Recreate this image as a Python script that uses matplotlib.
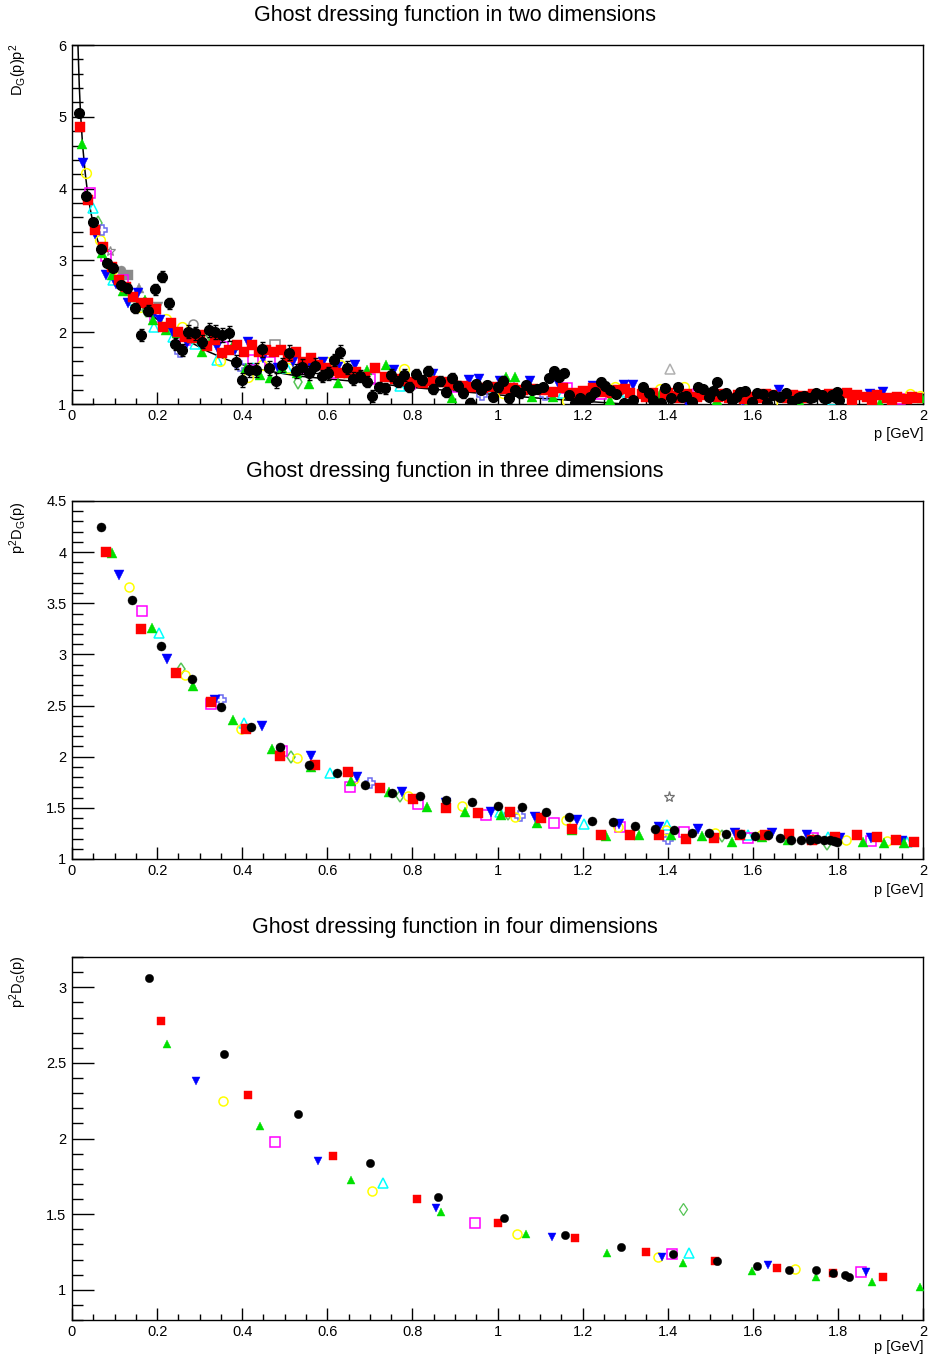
import matplotlib
matplotlib.use("Agg")
import matplotlib.pyplot as plt
from matplotlib.ticker import MultipleLocator, FuncFormatter

plt.rcParams.update({
    "font.family": ["Liberation Sans", "DejaVu Sans"],
    "mathtext.default": "regular",
    "axes.linewidth": 1.0,
})

# ---------------- two dimensions ----------------
d2_black_p = [0.017, 0.034, 0.049, 0.067, 0.083, 0.097, 0.114, 0.130, 0.148, 0.162,
              0.179, 0.195, 0.211, 0.227, 0.242, 0.258, 0.273, 0.289, 0.306, 0.322,
              0.337, 0.353, 0.369, 0.385, 0.400, 0.416, 0.432, 0.447, 0.463, 0.479,
              0.494, 0.510, 0.526, 0.541, 0.556, 0.572, 0.587, 0.602, 0.615, 0.631,
              0.646, 0.661, 0.677, 0.693, 0.705, 0.721, 0.736, 0.749, 0.765, 0.780,
              0.793, 0.808, 0.823, 0.836, 0.849, 0.865, 0.878, 0.892, 0.907, 0.920,
              0.935, 0.949, 0.962, 0.975, 0.989, 1.001, 1.014, 1.028, 1.040, 1.054,
              1.068, 1.080, 1.093, 1.106, 1.120, 1.132, 1.145, 1.157, 1.169, 1.182,
              1.193, 1.206, 1.218, 1.229, 1.243, 1.253, 1.265, 1.279, 1.298, 1.319,
              1.341, 1.357, 1.366, 1.384, 1.394, 1.407, 1.424, 1.433, 1.443, 1.456,
              1.472, 1.483, 1.496, 1.507, 1.515, 1.527, 1.537, 1.550, 1.560, 1.570,
              1.582, 1.597, 1.609, 1.623, 1.634, 1.648, 1.664, 1.677, 1.691, 1.707,
              1.712, 1.720, 1.734, 1.741, 1.748, 1.762, 1.768, 1.774, 1.787, 1.793,
              1.799, 1.803]
d2_black_v = [5.048, 3.901, 3.539, 3.154, 2.959, 2.899, 2.657, 2.611, 2.332, 1.961,
              2.300, 2.597, 2.773, 2.402, 1.836, 1.752, 2.007, 1.984, 1.868, 2.031,
              2.007, 1.961, 1.984, 1.589, 1.334, 1.473, 1.473, 1.761, 1.497, 1.325,
              1.543, 1.715, 1.460, 1.520, 1.436, 1.536, 1.390, 1.427, 1.613, 1.729,
              1.504, 1.355, 1.390, 1.311, 1.111, 1.232, 1.218, 1.404, 1.311, 1.404,
              1.241, 1.413, 1.334, 1.464, 1.209, 1.325, 1.162, 1.357, 1.251, 1.148,
              1.019, 1.278, 1.195, 1.264, 1.102, 1.232, 1.325, 1.079, 1.195, 1.148,
              1.264, 1.195, 1.204, 1.232, 1.357, 1.464, 1.371, 1.436, 1.125, 1.019,
              1.079, 1.019, 1.093, 1.172, 1.311, 1.251, 1.195, 1.137, 1.010, 1.056,
              1.232, 1.149, 1.056, 1.019, 1.219, 1.079, 1.232, 1.093, 1.112, 1.033,
              1.242, 1.205, 1.102, 1.186, 1.311, 1.126, 1.158, 1.056, 1.102, 1.172,
              1.181, 1.033, 1.158, 1.140, 1.019, 1.126, 1.102, 1.149, 1.047, 1.079,
              1.095, 1.112, 1.079, 1.100, 1.149, 1.126, 1.090, 1.079, 1.126, 1.100,
              1.172, 1.056]
d2_black_err = [0.03, 0.03, 0.03, 0.04, 0.04, 0.05, 0.05, 0.06, 0.07, 0.08,
                0.08, 0.08, 0.08, 0.08, 0.08, 0.09, 0.09, 0.09, 0.09, 0.10,
                0.10, 0.10, 0.10, 0.10, 0.10, 0.10, 0.10, 0.10, 0.10, 0.10,
                0.10, 0.10, 0.10, 0.10, 0.10, 0.10, 0.09, 0.09, 0.09, 0.09,
                0.09, 0.09, 0.08, 0.08, 0.08, 0.08, 0.08, 0.08, 0.08, 0.08,
                0.07, 0.07, 0.07, 0.07, 0.07, 0.07, 0.07, 0.07, 0.07, 0.07,
                0.06, 0.06, 0.06, 0.06, 0.06, 0.06, 0.06, 0.06, 0.06, 0.06,
                0.05, 0.05, 0.05, 0.05, 0.05, 0.05, 0.05, 0.05, 0.05, 0.05,
                0.05, 0.05, 0.05, 0.05, 0.05, 0.05, 0.04, 0.04, 0.04, 0.04,
                0.04, 0.04, 0.04, 0.04, 0.04, 0.04, 0.04, 0.04, 0.04, 0.04,
                0.04, 0.04, 0.04, 0.04, 0.04, 0.04, 0.04, 0.04, 0.04, 0.04,
                0.04, 0.04, 0.04, 0.04, 0.04, 0.04, 0.04, 0.04, 0.04, 0.04,
                0.03, 0.03, 0.03, 0.03, 0.03, 0.03, 0.03, 0.03, 0.03, 0.03,
                0.03, 0.03]

d2_red_p = [0.019, 0.037, 0.054, 0.074, 0.093, 0.111, 0.128, 0.144, 0.162, 0.179,
            0.197, 0.215, 0.232, 0.248, 0.266, 0.283, 0.301, 0.317, 0.335, 0.352,
            0.369, 0.387, 0.404, 0.422, 0.439, 0.457, 0.475, 0.491, 0.508, 0.526,
            0.544, 0.561, 0.579, 0.596, 0.614, 0.631, 0.649, 0.667, 0.689, 0.712,
            0.736, 0.759, 0.779, 0.802, 0.826, 0.849, 0.873, 0.896, 0.920, 0.943,
            0.967, 0.990, 1.015, 1.037, 1.061, 1.084, 1.108, 1.131, 1.155, 1.178,
            1.202, 1.225, 1.249, 1.270, 1.284, 1.300, 1.312, 1.339, 1.350, 1.366,
            1.393, 1.400, 1.417, 1.430, 1.445, 1.468, 1.480, 1.493, 1.519, 1.530,
            1.543, 1.566, 1.580, 1.594, 1.617, 1.630, 1.644, 1.668, 1.680, 1.695,
            1.719, 1.730, 1.742, 1.769, 1.780, 1.800, 1.821, 1.833, 1.844, 1.868,
            1.880, 1.891, 1.915, 1.926, 1.938, 1.962, 1.973, 1.985]
d2_red_v = [4.853, 3.841, 3.423, 3.191, 2.913, 2.727, 2.634, 2.495, 2.402, 2.402,
            2.318, 2.077, 2.124, 2.007, 1.938, 1.915, 1.961, 1.808, 1.891, 1.715,
            1.752, 1.822, 1.729, 1.822, 1.729, 1.752, 1.729, 1.752, 1.659, 1.729,
            1.589, 1.636, 1.543, 1.497, 1.464, 1.436, 1.427, 1.450, 1.380, 1.497,
            1.380, 1.343, 1.325, 1.311, 1.288, 1.325, 1.311, 1.264, 1.251, 1.241,
            1.218, 1.241, 1.204, 1.218, 1.195, 1.204, 1.195, 1.172, 1.218, 1.158,
            1.186, 1.218, 1.172, 1.160, 1.195, 1.210, 1.158, 1.140, 1.100, 1.149,
            1.126, 1.160, 1.112, 1.080, 1.140, 1.102, 1.150, 1.126, 1.102, 1.140,
            1.079, 1.126, 1.070, 1.102, 1.079, 1.140, 1.126, 1.102, 1.080, 1.126,
            1.112, 1.090, 1.140, 1.102, 1.140, 1.100, 1.149, 1.056, 1.126, 1.102,
            1.047, 1.126, 1.079, 1.056, 1.102, 1.065, 1.102, 1.079]

d2_green_p = [0.024, 0.070, 0.093, 0.119, 0.143, 0.172, 0.191, 0.222, 0.246, 0.285,
              0.305, 0.332, 0.379, 0.410, 0.442, 0.465, 0.493, 0.528, 0.557, 0.599,
              0.624, 0.652, 0.693, 0.739, 0.848, 0.893, 1.021, 1.041, 1.080, 1.131,
              1.265, 1.382, 1.515, 1.590, 1.711, 1.829, 1.899, 1.925, 1.997]
d2_green_v = [4.621, 3.098, 2.797, 2.578, 2.495, 2.448, 2.170, 2.031, 1.984, 1.915,
              1.729, 1.938, 1.822, 1.497, 1.404, 1.358, 1.497, 1.427, 1.279, 1.427,
              1.297, 1.427, 1.473, 1.543, 1.334, 1.079, 1.380, 1.371, 1.102, 1.102,
              1.056, 1.140, 1.056, 1.047, 1.033, 1.149, 1.010, 1.010, 1.079]

d2_blue_p = [0.027, 0.054, 0.081, 0.103, 0.132, 0.156, 0.191, 0.207, 0.238, 0.270,
             0.309, 0.340, 0.382, 0.414, 0.450, 0.485, 0.520, 0.559, 0.591, 0.626,
             0.664, 0.757, 0.849, 0.932, 0.956, 1.005, 1.077, 1.143, 1.225, 1.298,
             1.319, 1.394, 1.446, 1.578, 1.662, 1.875, 1.905]
d2_blue_v = [4.352, 3.368, 2.797, 2.671, 2.402, 2.541, 2.226, 2.170, 1.984, 1.845,
             1.799, 1.799, 1.752, 1.868, 1.636, 1.497, 1.589, 1.543, 1.589, 1.520,
             1.543, 1.473, 1.418, 1.334, 1.353, 1.325, 1.325, 1.288, 1.251, 1.265,
             1.265, 1.112, 1.010, 1.033, 1.195, 1.140, 1.172]

d2_yellow_p = [0.034, 0.066, 0.093, 0.125, 0.160, 0.222, 0.258, 0.349, 0.414, 0.446,
               0.508, 0.599, 0.630, 0.780, 1.014, 1.163, 1.276, 1.383, 1.438, 1.644,
               1.970, 1.993]
d2_yellow_v = [4.222, 3.284, 2.866, 2.588, 2.355, 2.179, 2.068, 1.603, 1.381, 1.543,
               1.497, 1.589, 1.543, 1.483, 1.158, 1.046, 1.241, 1.205, 1.242, 1.010,
               1.140, 1.112]

d2_magenta_p = [0.042, 0.081, 0.121, 0.195, 0.266, 0.356, 0.426, 0.465, 0.544, 0.614,
                0.701, 0.794, 0.904, 1.026, 1.163, 1.243, 1.472, 1.719, 1.946]
d2_magenta_v = [3.943, 3.061, 2.727, 2.216, 1.891, 1.799, 1.613, 1.589, 1.497, 1.427,
                1.343, 1.278, 1.232, 1.251, 1.218, 1.137, 1.140, 1.102, 1.065]

d2_cyan_p = [0.050, 0.097, 0.144, 0.193, 0.237, 0.289, 0.340, 0.426, 0.505, 0.771,
             0.990, 1.155, 1.304, 1.566, 1.789]
d2_cyan_v = [3.725, 2.727, 2.448, 2.077, 1.938, 1.836, 1.613, 1.497, 1.497, 1.251,
             1.241, 1.148, 1.172, 1.033, 1.056]

d2_diamond_p = [0.060, 0.175, 0.324, 0.530]
d2_diamond_v = [3.516, 2.309, 1.961, 1.311]

d2_cross_p = [0.070, 0.254, 0.395, 0.963, 1.112]
d2_cross_v = [3.423, 1.729, 1.529, 1.125, 1.125]

d2_gray_p = [0.089, 0.115, 0.132, 0.158, 0.203, 0.285, 0.477, 1.406]
d2_gray_v = [3.136, 2.866, 2.797, 2.611, 2.355, 2.115, 1.822, 1.490]

d2_fit_p = [0.014, 0.017, 0.020, 0.025, 0.031, 0.037, 0.044, 0.050, 0.060, 0.070,
            0.080, 0.095, 0.110, 0.125, 0.150, 0.175, 0.200, 0.222, 0.250, 0.285,
            0.320, 0.363, 0.400, 0.442, 0.490, 0.530, 0.600, 0.693, 0.800, 0.900,
            1.006, 1.100, 1.200, 1.300]
d2_fit_v = [6.00, 5.45, 5.05, 4.60, 4.22, 3.92, 3.68, 3.50, 3.28, 3.12,
            2.99, 2.84, 2.71, 2.60, 2.44, 2.30, 2.18, 2.08, 1.97, 1.84,
            1.73, 1.62, 1.55, 1.48, 1.43, 1.39, 1.35, 1.30, 1.23, 1.18,
            1.125, 1.08, 1.04, 1.00]

# ---------------- three dimensions ----------------
d3_black_p = [0.069, 0.140, 0.210, 0.281, 0.351, 0.420, 0.489, 0.557, 0.622, 0.689,
              0.753, 0.817, 0.878, 0.940, 1.000, 1.058, 1.114, 1.169, 1.222, 1.272,
              1.323, 1.369, 1.414, 1.457, 1.497, 1.536, 1.572, 1.605, 1.636, 1.664,
              1.689, 1.713, 1.734, 1.752, 1.768, 1.781, 1.791, 1.799]
d3_black_v = [4.242, 3.537, 3.086, 2.763, 2.486, 2.287, 2.094, 1.921, 1.839, 1.728,
              1.643, 1.620, 1.581, 1.561, 1.522, 1.512, 1.463, 1.414, 1.375, 1.358,
              1.326, 1.290, 1.283, 1.254, 1.251, 1.241, 1.244, 1.228, 1.234, 1.202,
              1.182, 1.185, 1.185, 1.192, 1.189, 1.182, 1.172, 1.162]

d3_red_p = [0.081, 0.163, 0.245, 0.326, 0.408, 0.489, 0.570, 0.648, 0.725, 0.802,
            0.879, 0.955, 1.030, 1.103, 1.174, 1.243, 1.311, 1.379, 1.444, 1.508,
            1.569, 1.628, 1.685, 1.739, 1.793, 1.844, 1.891, 1.936, 1.980]
d3_red_v = [4.004, 3.250, 2.819, 2.535, 2.267, 2.006, 1.921, 1.849, 1.695, 1.587,
            1.499, 1.450, 1.460, 1.404, 1.296, 1.238, 1.231, 1.231, 1.198, 1.205,
            1.231, 1.231, 1.241, 1.189, 1.218, 1.231, 1.211, 1.182, 1.166]

d3_green_p = [0.094, 0.188, 0.284, 0.379, 0.471, 0.562, 0.656, 0.745, 0.835, 0.923,
              1.009, 1.092, 1.176, 1.255, 1.333, 1.408, 1.480, 1.551, 1.622, 1.682,
              1.742, 1.798, 1.858, 1.909, 1.956]
d3_green_v = [3.987, 3.263, 2.691, 2.362, 2.078, 1.898, 1.767, 1.659, 1.512, 1.460,
              1.430, 1.352, 1.283, 1.221, 1.231, 1.238, 1.221, 1.169, 1.218, 1.189,
              1.198, 1.198, 1.162, 1.159, 1.153]

d3_blue_p = [0.111, 0.224, 0.337, 0.447, 0.561, 0.669, 0.775, 0.878, 0.985, 1.088,
             1.187, 1.286, 1.379, 1.471, 1.559, 1.646, 1.728, 1.805, 1.878, 1.951]
d3_blue_v = [3.775, 2.952, 2.557, 2.296, 2.006, 1.800, 1.659, 1.545, 1.457, 1.414,
             1.381, 1.342, 1.309, 1.290, 1.251, 1.251, 1.234, 1.202, 1.205, 1.179]

d3_yellow_p = [0.133, 0.265, 0.398, 0.529, 0.663, 0.789, 0.916, 1.041, 1.162, 1.284,
               1.396, 1.510, 1.620, 1.820, 1.916]
d3_yellow_v = [3.661, 2.802, 2.267, 1.986, 1.783, 1.620, 1.522, 1.408, 1.381, 1.316,
               1.287, 1.251, 1.231, 1.185, 1.172]

d3_magenta_p = [0.164, 0.326, 0.494, 0.654, 0.814, 0.974, 1.132, 1.288, 1.438, 1.589,
                1.742, 1.877]
d3_magenta_v = [3.423, 2.518, 2.051, 1.702, 1.538, 1.434, 1.349, 1.309, 1.260, 1.202,
                1.202, 1.179]

d3_cyan_p = [0.204, 0.404, 0.606, 1.005, 1.203, 1.398, 1.589, 1.777, 1.963]
d3_cyan_v = [3.210, 2.329, 1.845, 1.457, 1.342, 1.329, 1.231, 1.211, 1.166]

d3_diamond_p = [0.257, 0.515, 0.770, 1.024, 1.528, 1.774]
d3_diamond_v = [2.855, 1.996, 1.617, 1.440, 1.221, 1.146]

d3_cross_p = [0.351, 0.700, 1.053, 1.400]
d3_cross_v = [2.557, 1.744, 1.424, 1.198]

d3_star_p = [1.404]
d3_star_v = [1.61]

# ---------------- four dimensions ----------------
d4_black_p = [0.181, 0.358, 0.532, 0.700, 0.861, 1.015, 1.158, 1.291, 1.412, 1.517,
              1.610, 1.686, 1.748, 1.789, 1.817, 1.825]
d4_black_v = [3.058, 2.559, 2.163, 1.836, 1.616, 1.472, 1.362, 1.281, 1.237, 1.192,
              1.159, 1.131, 1.128, 1.111, 1.098, 1.087]

d4_red_p = [0.208, 0.413, 0.614, 0.811, 1.000, 1.181, 1.350, 1.510, 1.657, 1.789, 1.906]
d4_red_v = [2.775, 2.288, 1.887, 1.598, 1.444, 1.345, 1.252, 1.192, 1.142, 1.111, 1.087]

d4_green_p = [0.223, 0.443, 0.655, 0.867, 1.068, 1.257, 1.436, 1.599, 1.748, 1.880, 1.994]
d4_green_v = [2.623, 2.085, 1.725, 1.514, 1.367, 1.241, 1.175, 1.126, 1.087, 1.054, 1.016]

d4_blue_p = [0.291, 0.577, 0.856, 1.127, 1.387, 1.635, 1.866]
d4_blue_v = [2.378, 1.849, 1.543, 1.351, 1.214, 1.162, 1.115]

d4_yellow_p = [0.354, 0.706, 1.047, 1.377, 1.699]
d4_yellow_v = [2.246, 1.653, 1.367, 1.219, 1.137]

d4_magenta_p = [0.477, 0.947, 1.409, 1.854]
d4_magenta_v = [1.978, 1.439, 1.237, 1.120]

d4_cyan_p = [0.730, 1.449]
d4_cyan_v = [1.704, 1.241]

d4_diamond_p = [1.437]
d4_diamond_v = [1.532]

# ---------------- drawing ----------------
W, H = 931, 1360
fig = plt.figure(figsize=(W / 100, H / 100), dpi=100)

GREEN = "#00e000"
DIAMOND = "#55c455"
CROSS = "#6b6bf0"
GRAY = "#8a8a8a"


def make_axes(top_px, bottom_px, ylim, ymajor, yminor):
    ax = fig.add_axes([72 / W, 1 - bottom_px / H, (923 - 72) / W,
                       (bottom_px - top_px) / H])
    ax.set_xlim(0, 2)
    ax.set_ylim(*ylim)
    ax.xaxis.set_major_locator(MultipleLocator(0.2))
    ax.xaxis.set_minor_locator(MultipleLocator(0.05))
    ax.yaxis.set_major_locator(MultipleLocator(ymajor))
    ax.yaxis.set_minor_locator(MultipleLocator(yminor))
    fmt = FuncFormatter(lambda v, pos: f"{round(v, 3):g}")
    ax.xaxis.set_major_formatter(fmt)
    ax.yaxis.set_major_formatter(fmt)
    ax.tick_params(which="both", direction="in", top=False, right=False,
                   labelsize=10.5, width=1.0, color="black")
    ax.tick_params(axis="y", which="major", length=16, pad=4)
    ax.tick_params(axis="y", which="minor", length=8)
    ax.tick_params(axis="x", which="major", length=8.5, pad=3.5)
    ax.tick_params(axis="x", which="minor", length=4.5)
    return ax


def pts(ax, p, v, marker, color, ms, filled=True, mew=1.1, z=3):
    if filled:
        ax.plot(p, v, ls="none", marker=marker, ms=ms, mfc=color, mec=color,
                mew=0.3, zorder=z, clip_on=True)
    else:
        ax.plot(p, v, ls="none", marker=marker, ms=ms, mfc="none", mec=color,
                mew=mew, zorder=z, clip_on=True)


def labels(title, title_y, ylab, top_px, xlab_y):
    fig.text(455 / W, 1 - title_y / H, title, ha="center", va="center",
             fontsize=15.5)
    fig.text(18 / W, 1 - (top_px - 1) / H, ylab, rotation=90, ha="center",
             va="top", fontsize=10.5)
    fig.text(923 / W, 1 - xlab_y / H, "p [GeV]", ha="right", va="center",
             fontsize=10.5)


# two dimensions
ax1 = make_axes(45, 404, (1, 6), 1, 0.2)
labels("Ghost dressing function in two dimensions", 15,
       "D$_G$(p)p$^2$", 45, 434)
ax1.plot(d2_fit_p, d2_fit_v, color="black", lw=1.1, zorder=2)
pts(ax1, d2_gray_p[:1], d2_gray_v[:1], "*", GRAY, 7, filled=False, mew=0.9)
pts(ax1, d2_gray_p[1:2], d2_gray_v[1:2], "o", GRAY, 6.5)
pts(ax1, d2_gray_p[2:3], d2_gray_v[2:3], "s", GRAY, 6.5)
pts(ax1, d2_gray_p[3:4], d2_gray_v[3:4], "^", GRAY, 6.5)
pts(ax1, d2_gray_p[4:5], d2_gray_v[4:5], "v", GRAY, 6.5)
pts(ax1, d2_gray_p[5:6], d2_gray_v[5:6], "o", GRAY, 6.5, filled=False)
pts(ax1, d2_gray_p[6:7], d2_gray_v[6:7], "s", GRAY, 6.5, filled=False)
pts(ax1, d2_gray_p[7:], d2_gray_v[7:], "^", "#b0b0b0", 6.5, filled=False)
pts(ax1, d2_cyan_p, d2_cyan_v, "^", "#00ffff", 7, filled=False)
pts(ax1, d2_magenta_p, d2_magenta_v, "s", "#ff00ff", 6.5, filled=False)
pts(ax1, d2_yellow_p, d2_yellow_v, "o", "#ffff00", 7, filled=False)
pts(ax1, d2_diamond_p, d2_diamond_v, "d", DIAMOND, 7, filled=False)
pts(ax1, d2_cross_p, d2_cross_v, "P", CROSS, 7.5, filled=False)
pts(ax1, d2_blue_p, d2_blue_v, "v", "#0000ff", 7)
pts(ax1, d2_green_p, d2_green_v, "^", GREEN, 7)
pts(ax1, d2_red_p, d2_red_v, "s", "#ff0000", 7, z=4)
ax1.errorbar(d2_black_p, d2_black_v, yerr=d2_black_err, fmt="o", ms=7,
             color="black", mec="black", elinewidth=1.0, capsize=1.8,
             capthick=1.0, zorder=5)

# three dimensions
ax2 = make_axes(501, 859, (1, 4.5), 0.5, 0.1)
labels("Ghost dressing function in three dimensions", 472,
       "p$^2$D$_G$(p)", 503, 890)
pts(ax2, d3_star_p, d3_star_v, "*", "#707070", 8, filled=False, mew=0.9)
pts(ax2, d3_cross_p, d3_cross_v, "P", CROSS, 7, filled=False)
pts(ax2, d3_diamond_p, d3_diamond_v, "d", DIAMOND, 6.5, filled=False)
pts(ax2, d3_cyan_p, d3_cyan_v, "^", "#00ffff", 6.5, filled=False)
pts(ax2, d3_magenta_p, d3_magenta_v, "s", "#ff00ff", 6.5, filled=False)
pts(ax2, d3_yellow_p, d3_yellow_v, "o", "#ffff00", 6.5, filled=False)
pts(ax2, d3_blue_p, d3_blue_v, "v", "#0000ff", 6.5)
pts(ax2, d3_green_p, d3_green_v, "^", GREEN, 6.5)
pts(ax2, d3_red_p, d3_red_v, "s", "#ff0000", 6.5)
pts(ax2, d3_black_p, d3_black_v, "o", "black", 6.5, z=5)

# four dimensions
ax3 = make_axes(957, 1320, (0.8, 3.2), 0.5, 0.1)
labels("Ghost dressing function in four dimensions", 928,
       "p$^2$D$_G$(p)", 957, 1347)
pts(ax3, d4_diamond_p, d4_diamond_v, "d", DIAMOND, 6, filled=False, mew=0.9)
pts(ax3, d4_cyan_p, d4_cyan_v, "^", "#00ffff", 6.5, filled=False)
pts(ax3, d4_magenta_p, d4_magenta_v, "s", "#ff00ff", 6.5, filled=False)
pts(ax3, d4_yellow_p, d4_yellow_v, "o", "#ffff00", 6.5, filled=False)
pts(ax3, d4_blue_p, d4_blue_v, "v", "#0000ff", 6)
pts(ax3, d4_green_p, d4_green_v, "^", GREEN, 6)
pts(ax3, d4_red_p, d4_red_v, "s", "#ff0000", 6)
pts(ax3, d4_black_p, d4_black_v, "o", "black", 6, z=5)

fig.savefig("out.png", dpi=100)
